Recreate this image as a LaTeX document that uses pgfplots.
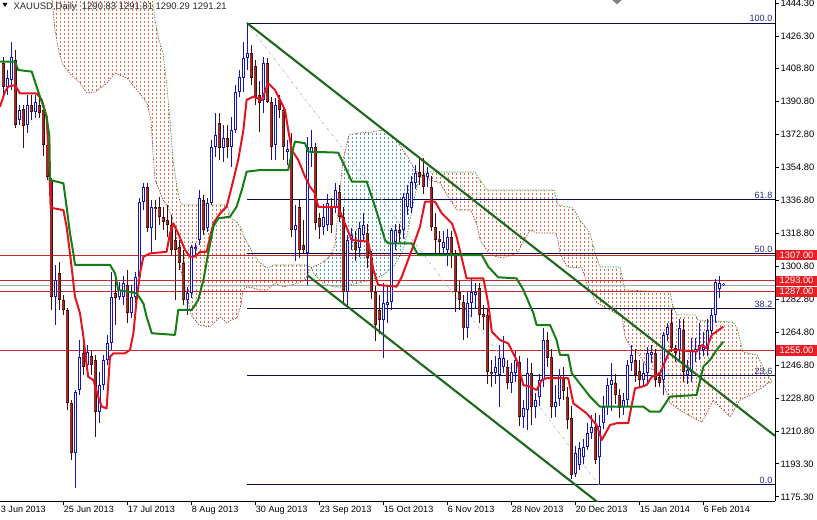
\documentclass[border=0pt]{standalone}
\usepackage{fontspec}
\setmainfont{Liberation Sans}
\usepackage{pgfplots}
\pgfplotsset{compat=1.18}
\usepackage{pgfplotstable}
\usepgfplotslibrary{fillbetween}
\usetikzlibrary{patterns}

\definecolor{bullc}{RGB}{20,20,190}
\definecolor{bearedge}{RGB}{70,12,12}
\definecolor{bearbody}{RGB}{150,45,40}
\definecolor{tenkan}{RGB}{228,20,30}
\definecolor{kijun}{RGB}{20,125,20}
\definecolor{trend}{RGB}{30,105,30}
\definecolor{hred}{RGB}{205,40,40}
\definecolor{fibc}{RGB}{10,10,80}
\definecolor{fibtxt}{RGB}{40,40,130}
\definecolor{pricered}{RGB}{232,30,36}
\definecolor{cloudor}{RGB}{225,105,70}
\definecolor{cloudbl}{RGB}{75,155,180}
\definecolor{spanr}{RGB}{170,50,35}
\definecolor{spang}{RGB}{40,140,40}

% vertical dashes, one column per ~bar, like the MT4 cloud
\pgfdeclarepatternformonly{mtdots}{\pgfqpoint{-0.1pt}{-0.1pt}}{\pgfqpoint{3.1pt}{3.1pt}}{\pgfqpoint{3pt}{3pt}}{%
  \pgfpathrectangle{\pgfqpoint{0pt}{0pt}}{\pgfqpoint{0.45pt}{1.3pt}}\pgfusepath{fill}}

\newcommand{\lblfont}{\fontsize{6.8}{8}\selectfont}
\newcommand{\ylblfont}{\fontsize{7}{8}\selectfont}

% i = bar number (0 = 25 Jun 2013), o h l c
\pgfplotstableread{
i o h l c
-14 1398.5 1407.8 1394.2 1403.4
-13 1402.4 1423.1 1396.9 1414.9
-11 1380.6 1388.7 1377.8 1386.0
-9 1377.8 1394.2 1373.5 1388.7
-7 1384.9 1394.2 1381.7 1390.4
-2 1284.2 1301.6 1268.9 1293.4
3 1199.2 1233.5 1180.0 1232.4
4 1233.5 1260.7 1230.8 1251.5
6 1247.1 1258.0 1243.3 1254.2
9 1221.5 1243.3 1215.5 1236.2
10 1236.2 1252.6 1233.5 1249.8
11 1249.8 1263.5 1247.1 1259.1
12 1259.1 1297.8 1255.3 1284.2
14 1284.2 1292.3 1282.5 1288.0
15 1284.2 1295.6 1279.8 1291.8
17 1275.4 1290.7 1272.7 1284.2
18 1284.2 1297.8 1280.9 1295.1
19 1295.1 1338.1 1293.4 1335.9
20 1335.9 1346.3 1331.5 1344.1
22 1321.7 1337.0 1308.7 1333.2
31 1282.5 1289.6 1274.4 1286.3
32 1286.3 1312.5 1283.6 1311.4
33 1310.3 1313.6 1307.0 1311.4
34 1315.2 1342.4 1312.5 1338.1
36 1321.7 1338.1 1319.6 1335.4
37 1335.4 1369.7 1334.3 1365.9
38 1365.9 1384.4 1360.4 1372.4
40 1365.3 1377.8 1357.7 1370.8
42 1365.9 1382.2 1355.0 1375.1
43 1375.1 1399.6 1373.5 1395.8
44 1395.8 1407.8 1393.1 1404.0
45 1403.4 1423.1 1395.8 1414.3
46 1414.3 1433.4 1407.8 1417.1
50 1391.5 1414.9 1384.4 1411.6
53 1367.0 1392.6 1358.8 1388.7
56 1363.0 1369.7 1356.0 1365.0
58 1320.6 1334.0 1304.0 1323.4
61 1308.0 1371.3 1290.7 1365.9
62 1362.6 1375.0 1355.0 1365.9
65 1322.3 1335.0 1318.0 1327.7
66 1323.4 1340.0 1320.0 1335.4
68 1333.0 1346.0 1330.0 1342.4
71 1286.9 1318.0 1279.0 1315.2
72 1315.0 1322.0 1310.0 1318.0
74 1311.0 1325.0 1306.0 1321.7
75 1318.0 1330.0 1314.0 1323.4
80 1271.6 1292.0 1250.9 1280.9
81 1280.0 1290.0 1270.0 1281.5
82 1281.5 1322.0 1277.0 1320.6
83 1314.0 1324.0 1310.0 1320.6
85 1320.6 1341.0 1316.0 1338.6
86 1333.0 1345.0 1329.0 1340.8
87 1332.6 1350.0 1330.0 1346.8
88 1346.0 1356.0 1343.0 1351.7
91 1349.5 1355.0 1344.0 1351.7
95 1311.0 1320.0 1307.0 1314.0
96 1309.8 1321.0 1301.0 1316.8
101 1267.5 1287.0 1262.0 1281.0
102 1281.0 1294.0 1273.0 1287.0
103 1285.0 1292.0 1278.0 1287.0
108 1242.7 1252.0 1237.0 1246.0
109 1241.6 1258.0 1224.0 1251.0
110 1246.0 1263.0 1243.0 1251.0
112 1237.3 1248.0 1232.0 1243.3
113 1242.7 1255.0 1238.0 1249.8
115 1218.8 1228.0 1213.0 1223.7
116 1222.6 1250.9 1211.7 1242.7
118 1224.2 1232.0 1218.0 1228.0
119 1229.6 1242.0 1225.0 1238.9
120 1238.9 1267.3 1235.0 1260.7
123 1224.2 1236.0 1219.0 1227.0
124 1228.6 1245.0 1225.0 1241.6
128 1188.0 1203.0 1186.0 1199.2
129 1192.6 1205.0 1190.0 1201.9
130 1197.0 1207.0 1193.0 1202.5
131 1202.5 1215.5 1201.0 1210.0
132 1210.0 1220.0 1207.0 1213.3
134 1197.0 1220.0 1181.8 1214.0
135 1215.5 1230.0 1212.0 1224.2
136 1224.2 1240.0 1220.0 1236.2
137 1236.0 1248.0 1222.0 1238.9
140 1224.2 1232.0 1220.0 1228.0
141 1228.0 1250.0 1225.0 1247.1
142 1248.0 1258.0 1244.0 1252.5
145 1238.9 1248.0 1235.0 1242.7
146 1242.7 1257.0 1238.0 1253.6
147 1252.5 1258.0 1248.0 1254.1
150 1238.9 1265.0 1230.8 1263.4
151 1263.4 1270.0 1260.0 1267.8
154 1255.3 1272.0 1250.0 1267.3
156 1241.6 1250.0 1237.0 1244.5
157 1243.3 1262.0 1238.0 1255.3
158 1254.2 1262.0 1249.0 1255.8
159 1255.8 1270.0 1250.0 1258.0
160 1255.3 1265.0 1252.0 1257.0
161 1256.0 1272.0 1252.0 1266.2
162 1265.7 1278.0 1262.0 1274.3
163 1274.3 1294.0 1270.0 1292.3
164 1288.5 1295.5 1283.6 1291.8
165 1290.6 1291.8 1290.3 1291.2
}\bull

\pgfplotstableread{
i o h l c
-15 1411.6 1414.9 1394.2 1398.5
-12 1413.3 1418.7 1376.2 1377.8
-10 1386.6 1388.7 1365.3 1377.3
-8 1388.7 1394.2 1380.6 1384.9
-6 1388.7 1392.6 1381.7 1384.4
-5 1386.0 1388.7 1361.0 1367.0
-4 1367.0 1369.7 1347.9 1349.5
-3 1347.9 1349.0 1277.1 1284.2
-1 1297.2 1303.2 1277.1 1282.5
0 1282.5 1285.2 1274.4 1277.1
1 1277.1 1278.2 1222.6 1226.4
2 1226.4 1228.0 1195.4 1199.2
5 1253.6 1260.7 1241.7 1246.0
7 1252.0 1255.3 1241.7 1247.1
8 1249.8 1252.6 1207.9 1221.5
13 1286.3 1296.1 1268.9 1283.6
16 1290.7 1298.9 1270.0 1275.4
21 1344.1 1346.3 1319.6 1321.7
23 1333.2 1337.0 1315.2 1332.1
24 1333.2 1338.6 1323.4 1327.7
25 1327.7 1333.2 1320.6 1325.0
26 1326.1 1334.3 1316.8 1323.4
27 1323.4 1328.8 1307.0 1309.8
28 1315.2 1320.6 1282.5 1309.8
29 1311.4 1315.2 1298.9 1302.7
30 1302.7 1309.8 1279.8 1282.5
35 1337.0 1339.7 1317.9 1320.6
39 1378.9 1384.4 1358.8 1365.3
41 1370.8 1377.8 1359.9 1365.9
47 1417.1 1421.4 1399.6 1403.4
48 1410.0 1413.2 1388.7 1393.1
49 1394.0 1402.0 1374.0 1390.0
51 1411.6 1414.3 1389.8 1390.4
52 1390.4 1393.1 1358.8 1365.9
54 1391.5 1394.0 1381.6 1386.0
55 1386.0 1388.7 1358.8 1365.9
57 1365.3 1373.5 1316.8 1320.6
59 1333.2 1337.0 1305.4 1309.8
60 1312.5 1326.0 1308.0 1309.8
63 1365.9 1368.0 1320.6 1324.5
64 1327.2 1330.0 1316.0 1322.3
67 1333.0 1338.0 1319.0 1323.4
69 1341.4 1345.0 1325.0 1327.7
70 1327.7 1333.0 1280.0 1286.9
73 1314.0 1320.0 1304.0 1309.8
76 1319.0 1324.0 1300.0 1305.4
77 1305.4 1309.0 1283.0 1286.9
78 1286.9 1290.0 1260.0 1268.9
79 1277.0 1285.0 1264.0 1271.6
84 1320.6 1324.0 1314.0 1319.0
89 1352.0 1360.4 1345.0 1349.5
90 1350.6 1360.0 1340.0 1344.0
92 1344.0 1350.0 1320.0 1322.3
93 1322.3 1330.0 1308.0 1315.2
94 1316.0 1320.0 1307.0 1314.0
97 1316.8 1320.0 1300.0 1307.0
98 1308.0 1310.0 1276.0 1287.0
99 1287.0 1293.0 1277.0 1282.5
100 1281.5 1285.0 1261.0 1267.0
104 1289.0 1292.0 1270.0 1274.3
105 1275.0 1280.0 1266.0 1273.0
106 1274.3 1278.0 1237.0 1243.3
107 1243.3 1250.0 1235.0 1242.2
111 1246.0 1250.0 1234.0 1237.3
114 1248.7 1252.0 1214.0 1218.8
117 1242.7 1248.0 1214.4 1224.2
121 1260.7 1265.0 1246.0 1250.9
122 1251.4 1256.0 1218.0 1224.2
125 1240.5 1246.0 1228.0 1232.8
126 1229.6 1235.0 1212.0 1217.2
127 1218.0 1225.0 1185.0 1187.2
133 1213.3 1221.0 1193.0 1195.4
138 1237.3 1242.0 1226.0 1230.8
139 1230.8 1234.0 1218.0 1223.7
143 1249.8 1256.0 1238.0 1241.6
144 1244.0 1250.0 1235.0 1238.9
148 1253.6 1256.0 1235.0 1238.9
149 1240.5 1243.0 1235.0 1237.3
152 1270.0 1278.0 1254.0 1256.4
153 1256.4 1258.0 1249.0 1253.6
155 1266.2 1272.0 1238.0 1243.3
}\bear

\begin{document}
\begin{tikzpicture}
\begin{axis}[
  width=581.25pt, height=375.75pt, scale only axis,
  xmin=-15.75, xmax=178, ymin=1173.03, ymax=1445.93,
  axis x line*=bottom, axis y line*=right,
  axis line style={line width=0.75pt, black},
  tick align=outside, major tick length=3pt,
  tick style={black, line width=0.6pt},
  xtick={0,16,...,160},
  xticklabels={25 Jun 2013,17 Jul 2013,8 Aug 2013,30 Aug 2013,23 Sep 2013,15 Oct 2013,6 Nov 2013,28 Nov 2013,20 Dec 2013,15 Jan 2014,6 Feb 2014},
  xticklabel style={anchor=north west, inner sep=0.5pt, font=\lblfont},
  ytick={1444.3,1426.3,1408.8,1390.8,1372.8,1354.8,1336.8,1318.8,1300.8,1282.8,1264.8,1246.8,1228.8,1210.8,1193.3,1175.3},
  yticklabels={1444.30,1426.30,1408.80,1390.80,1372.80,1354.80,1336.80,1318.80,1300.80,1282.80,1264.80,1246.80,1228.80,1210.80,1193.30,1175.30},
  yticklabel style={anchor=west, inner sep=1pt, font=\ylblfont},
  tick label style={text=black},
  clip mode=individual,
]

% ichimoku cloud: span lines
\addplot[name path=R, spanr, line width=0.5pt, dash pattern=on 1pt off 1pt] coordinates {
(-3,1451.4) (-2,1429.6) (-1,1417.6) (0,1410.5) (2,1405.1) (4,1401.3) (6,1395.3) (8,1395.8)
(11,1400.7) (13,1406.2) (16,1403.4) (18.5,1396.9) (21,1389.8) (22,1380.6) (22.5,1362.6) (23,1347.9)
(24,1342.4) (25,1337.0) (26,1334.3) (27,1328.8) (28,1320.6) (29,1304.3) (30,1293.4) (31,1285.2)
(32,1274.4) (34,1268.9) (36.75,1267.8) (39.25,1273.3) (41,1270.0) (42,1271.6) (43.5,1272.7) (44.5,1279.8)
(45,1288.0) (46,1289.6) (47.5,1289.1) (49,1288.0) (51,1288.0) (53,1291.8) (55,1289.6) (57,1290.7)
(59,1291.8) (60.5,1293.4) (61.5,1297.8) (62,1300.0) (63,1301.0) (65,1303.2) (67,1307.0) (68,1312.5)
(69,1337.0) (70,1358.8) (71.5,1372.4) (74,1373.5) (77,1374.0) (80,1375.1) (83,1370.8) (85,1364.2)
(86,1361.0) (87,1357.1) (88,1353.3) (89,1350.6) (90,1349.0) (91.75,1347.9) (94.25,1346.3) (96.75,1337.0)
(98.5,1331.5) (102,1331.5) (103.5,1323.4) (104.25,1315.2) (106.75,1307.0) (110,1305.4) (113.5,1308.1) (116.75,1320.6)
(118.5,1319.0) (123,1319.0) (123.75,1315.2) (124.25,1308.1) (126,1300.5) (129.75,1300.0) (131.25,1289.6) (133.5,1280.9)
(136.75,1277.1) (139.75,1273.3) (140.5,1262.4) (142.25,1255.3) (143.75,1253.6) (146,1246.0) (149.25,1242.8) (151.75,1226.4)
(155,1221.5) (158.5,1217.2) (159.75,1216.1) (161,1221.0) (162.5,1228.0) (166.75,1218.8) (169.25,1228.0) (171.75,1230.8)
(175,1235.1) (176.25,1237.3) (177.25,1237.9)
};
\addplot[name path=G, spang, line width=0.5pt, dash pattern=on 1pt off 1pt] coordinates {
(-3,1478.6) (21,1478.6) (22,1451.4) (23,1435.0) (24,1424.1) (25,1417.1) (26,1398.5) (26.75,1380.6)
(27.5,1358.8) (28.5,1344.0) (29.25,1335.9) (30,1334.3) (41,1334.3) (42,1327.2) (43.5,1325.0) (44.5,1321.7)
(45,1317.9) (46,1314.1) (47.5,1308.1) (49,1303.2) (51,1300.0) (53,1301.6) (57,1301.6) (60.5,1301.6)
(61.5,1301.0) (62,1300.0) (63,1296.1) (65,1291.8) (67,1290.1) (68,1289.6) (70,1289.6) (71.5,1290.7)
(74,1291.8) (77,1293.4) (80,1296.1) (83,1301.6) (85,1309.8) (86,1317.9) (87,1328.8) (88,1339.7)
(89,1347.9) (90,1352.2) (103,1352.2) (104.75,1346.3) (106,1342.4) (122.75,1342.4) (123.75,1334.3) (127.5,1332.6)
(129.25,1326.1) (131.75,1319.0) (133,1308.1) (134.25,1300.5) (139.25,1300.5) (140.5,1288.0) (151.75,1286.9) (152.5,1278.7)
(153.5,1274.4) (158,1274.4) (158.75,1271.6) (167.5,1270.5) (168.5,1267.3) (170,1254.2) (173.5,1252.6) (175,1246.0)
(176.75,1240.0) (177.25,1237.9)
};
\addplot[pattern=mtdots, pattern color=cloudor, draw=none] fill between[of=R and G, soft clip={domain=-3:62}];
\addplot[pattern=mtdots, pattern color=cloudbl, draw=none] fill between[of=R and G, soft clip={domain=62:89.5}];
\addplot[pattern=mtdots, pattern color=cloudor, draw=none] fill between[of=R and G, soft clip={domain=89.5:177.25}];

% horizontal levels
\addplot[hred, line width=0.75pt] coordinates {(-16,1307) (179,1307)};
\addplot[hred, line width=0.75pt] coordinates {(-16,1293) (179,1293)};
\addplot[hred, line width=0.75pt] coordinates {(-16,1287) (179,1287)};
\addplot[hred, line width=0.75pt] coordinates {(-16,1255) (179,1255)};
\addplot[gray!70, line width=0.5pt] coordinates {(-16,1290.6) (179,1290.6)};

% fibonacci retracement
\addplot[fibc, line width=0.75pt] coordinates {(46,1433.4) (179,1433.4)};
\addplot[fibc, line width=0.75pt] coordinates {(46,1337.3) (179,1337.3)};
\addplot[fibc, line width=0.75pt] coordinates {(46,1307.6) (179,1307.6)};
\addplot[fibc, line width=0.75pt] coordinates {(46,1277.9) (179,1277.9)};
\addplot[fibc, line width=0.75pt] coordinates {(46,1241.2) (179,1241.2)};
\addplot[fibc, line width=0.75pt] coordinates {(46,1181.8) (179,1181.8)};
\addplot[gray!55, line width=0.5pt, dash pattern=on 2pt off 1.5pt on 0.5pt off 1.5pt] coordinates {(46,1433.4) (134,1181.8)};

% candles: wicks, then bodies
\addplot[draw=none, forget plot, error bars/.cd, y dir=plus, y explicit, error mark=none,
  error bar style={draw=bullc, line width=0.75pt}]
  table[x=i, y=l, y error expr=\thisrow{h}-\thisrow{l}] {\bull};
\addplot[draw=none, forget plot, error bars/.cd, y dir=plus, y explicit, error mark=none,
  error bar style={draw=bearedge, line width=0.75pt}]
  table[x=i, y=l, y error expr=\thisrow{h}-\thisrow{l}] {\bear};
\addplot[draw=none, forget plot, error bars/.cd, y dir=plus, y explicit, error mark=none,
  error bar style={draw=bullc, line width=2.25pt}]
  table[x=i, y=o, y error expr=\thisrow{c}-\thisrow{o}] {\bull};
\addplot[draw=none, forget plot, error bars/.cd, y dir=plus, y explicit, error mark=none,
  error bar style={draw=white, line width=0.75pt, shorten <=0.75pt, shorten >=0.75pt}]
  table[x=i, y=o, y error expr=\thisrow{c}-\thisrow{o}] {\bull};
\addplot[draw=none, forget plot, error bars/.cd, y dir=plus, y explicit, error mark=none,
  error bar style={draw=bearedge, line width=2.25pt}]
  table[x=i, y=c, y error expr=\thisrow{o}-\thisrow{c}] {\bear};
\addplot[draw=none, forget plot, error bars/.cd, y dir=plus, y explicit, error mark=none,
  error bar style={draw=bearbody, line width=0.8pt, shorten <=0.6pt, shorten >=0.6pt}]
  table[x=i, y=c, y error expr=\thisrow{o}-\thisrow{c}] {\bear};

% tenkan-sen
\addplot[tenkan, line width=1.5pt, line join=round] coordinates {
(-15.75,1387.8) (-14.5,1396.0) (-13.7,1398.7) (-12,1399.6) (-10.75,1395.1) (-6.6,1395.1) (-5.3,1391.5) (-4.1,1382.4)
(-3.4,1353.3) (-3.1,1333.3) (-2.4,1332.5) (0.1,1331.5) (0.9,1322.5) (1.75,1307.9) (3,1284.3) (4.25,1275.3)
(5.1,1262.5) (5.75,1249.8) (6.3,1240.7) (7.6,1238.9) (8.8,1229.9) (9.7,1224.4) (10.9,1223.5) (11.75,1251.6)
(12.6,1253.5) (15.5,1253.5) (16.75,1255.3) (17.6,1264.4) (18.4,1282.5) (19.25,1297.1) (20.1,1306.1) (21.75,1307.9)
(25.9,1308.8) (26.75,1318.8) (27.6,1324.3) (28.8,1318.8) (30.5,1309.8) (31.75,1306.1) (33,1306.1) (34.25,1308.8)
(35.9,1308.8) (37.6,1324.3) (39.25,1329.7) (40.9,1333.3) (42.6,1347.9) (43.8,1358.8) (45.1,1375.1) (45.9,1391.5)
(47.6,1393.3) (49.7,1391.5) (51.3,1400.6) (53,1396.9) (54.25,1391.5) (55.5,1386.0) (56.3,1375.1) (57.2,1364.2)
(58.8,1358.8) (60.5,1349.7) (61.75,1344.2) (63,1340.6) (63.8,1333.3) (68.8,1333.3) (70.1,1326.1) (72.2,1315.2)
(76.3,1314.3) (77.6,1298.9) (78.8,1290.7) (83.4,1289.8) (84.7,1295.2) (87.2,1309.8) (89.25,1322.5) (90.5,1336.1)
(93,1336.1) (94.7,1329.7) (97.2,1324.3) (98.4,1317.0) (100.9,1294.3) (105.1,1294.3) (106.3,1280.7) (107.2,1265.3)
(109.25,1260.7) (111.3,1258.9) (113.4,1249.8) (115.1,1236.2) (116.75,1235.3) (118.4,1233.5) (119.7,1238.9) (120.9,1239.9)
(126.3,1239.9) (127.6,1226.2) (130.9,1220.8) (133.4,1214.4) (134.7,1206.3) (136.75,1214.4) (138.4,1215.4) (141.3,1215.4)
(143,1234.4) (144.7,1235.3) (145.9,1236.2) (147.2,1240.7) (149.25,1242.6) (151.75,1255.3) (153.4,1255.3) (158.4,1254.4)
(159.7,1258.0) (160.9,1256.2) (162.2,1263.5) (165.1,1268.0)
};
% kijun-sen
\addplot[kijun, line width=1.5pt, line join=round] coordinates {
(-15.75,1412.3) (-12,1412.3) (-11.2,1407.8) (-7.8,1406.9) (-6.6,1398.7) (-4.9,1387.8) (-4.1,1382.4) (-3.4,1371.5)
(-3.25,1347.9) (0.1,1346.1) (0.9,1333.3) (1.75,1318.8) (2.6,1307.9) (3,1301.6) (11.75,1301.6) (13,1297.1)
(13.8,1288.0) (18.4,1286.2) (20.1,1280.7) (20.9,1273.4) (22.2,1264.4) (28,1263.5) (28.8,1277.1) (32.2,1277.1)
(33.8,1282.5) (35.1,1293.4) (36.3,1307.9) (37.6,1322.5) (38.8,1327.0) (41.75,1327.9) (43.4,1333.3) (44.7,1342.4)
(45.9,1352.4) (49.25,1353.3) (56.3,1353.3) (57.2,1362.4) (58,1368.8) (60.5,1367.9) (61.3,1363.3) (68.8,1362.8)
(70.5,1355.1) (72.2,1347.0) (75.9,1347.0) (77.2,1338.8) (78.8,1327.9) (80.5,1315.2) (81.3,1313.4) (87.2,1313.4)
(88.8,1307.0) (104.7,1307.0) (106.3,1300.7) (108.8,1294.9) (113.4,1294.3) (115.1,1288.0) (117.6,1275.3) (118.4,1268.9)
(121.75,1268.9) (123.4,1260.7) (124.25,1252.6) (126.3,1252.6) (127.2,1242.6) (131.75,1229.9) (134.25,1224.4) (145.1,1224.4)
(146.75,1221.7) (149.25,1221.7) (151.75,1229.9) (158.4,1230.8) (159.7,1242.6) (160.1,1246.2) (161.75,1249.8) (163.4,1255.3)
(165.1,1259.8)
};

% channel
\addplot[trend, line width=1.6pt] coordinates {(46,1433.4) (178,1208.5)};
\addplot[trend, line width=1.6pt] coordinates {(61.1,1296.0) (134,1171.8)};

% labels
\node[anchor=south east, inner sep=0.6pt, font=\lblfont, text=fibtxt] at (axis cs:177.6,1433.4) {100.0};
\node[anchor=south east, inner sep=0.6pt, font=\lblfont, text=fibtxt] at (axis cs:177.6,1337.3) {61.8};
\node[anchor=south east, inner sep=0.6pt, font=\lblfont, text=fibtxt] at (axis cs:177.6,1307.6) {50.0};
\node[anchor=south east, inner sep=0.6pt, font=\lblfont, text=fibtxt] at (axis cs:177.6,1277.9) {38.2};
\node[anchor=south east, inner sep=0.6pt, font=\lblfont, text=fibtxt] at (axis cs:177.6,1241.2) {23.6};
\node[anchor=south east, inner sep=0.6pt, font=\lblfont, text=fibtxt] at (axis cs:177.6,1181.8) {0.0};

\node[anchor=west, fill=pricered, text=white, inner sep=0pt, minimum width=30.75pt, minimum height=7.6pt, font=\ylblfont, xshift=0.6pt] at (axis cs:178,1307) {1307.00};
\node[anchor=west, fill=pricered, text=white, inner sep=0pt, minimum width=30.75pt, minimum height=7.6pt, font=\ylblfont, xshift=0.6pt] at (axis cs:178,1293) {1293.00};
\node[anchor=west, fill=pricered, text=white, inner sep=0pt, minimum width=30.75pt, minimum height=7.6pt, font=\ylblfont, xshift=0.6pt] at (axis cs:178,1287) {1287.00};
\node[anchor=west, fill=pricered, text=white, inner sep=0pt, minimum width=30.75pt, minimum height=7.6pt, font=\ylblfont, xshift=0.6pt] at (axis cs:178,1255) {1255.00};

\node[anchor=north west, inner sep=0pt, font=\fontsize{7.1}{8}\selectfont, text=black!85, xshift=10pt, yshift=-2pt] at (rel axis cs:0,1) {XAUUSD,Daily\ \ 1290.83 1291.81 1290.29 1291.21};
\fill[black] (axis cs:-15.1,1444.3) -- (axis cs:-13.9,1444.3) -- (axis cs:-14.5,1442.2) -- cycle;
\fill[gray] (axis cs:137.3,1445.9) -- (axis cs:139.7,1445.9) -- (axis cs:138.5,1443.6) -- cycle;
\node[anchor=north west, inner sep=0.5pt, font=\lblfont, text=black, yshift=-3pt] at (rel axis cs:0,0) {3 Jun 2013};
\end{axis}
\pgfresetboundingbox
\path[use as bounding box] (0,-13.5pt) rectangle (612.75pt,375.75pt);
\end{tikzpicture}
\end{document}
